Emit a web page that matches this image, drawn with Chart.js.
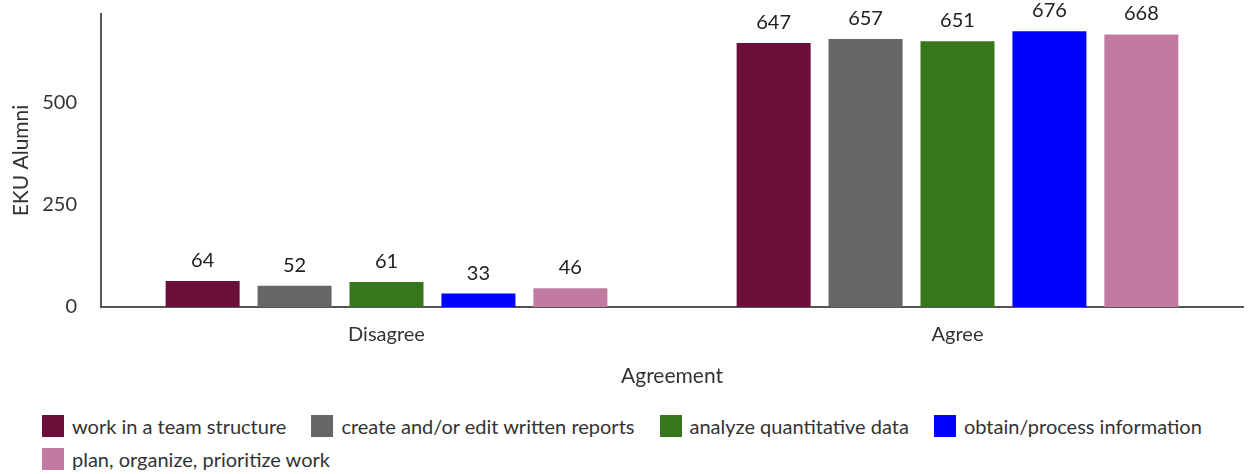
<!DOCTYPE html>
<html>
<head>
<meta charset="utf-8">
<script src="https://cdn.jsdelivr.net/npm/chart.js@4"></script>
<style>
  body { margin: 0; background: #fff; font-family: Lato, sans-serif; }
  #wrap { position: relative; width: 1248px; height: 474px; }
  #chartBox { position: absolute; left: 0; top: 0; width: 1248px; height: 392px; }
  #legend { position: absolute; left: 42px; top: 415px; width: 1200px; display: flex; flex-wrap: wrap; row-gap: 11px; }
  .item { display: flex; align-items: center; margin-right: 25px; font-size: 20px; color: #333; height: 22px; }
  .box { width: 22px; height: 22px; margin-right: 8px; }
</style>
</head>
<body>
<div id="wrap">
  <div id="chartBox"><canvas id="chart"></canvas></div>
  <div id="legend"></div>
</div>
<script>
const categories = ['Disagree', 'Agree'];
const seriesNames = ['work in a team structure', 'create and/or edit written reports', 'analyze quantitative data', 'obtain/process information', 'plan, organize, prioritize work'];
const teamWork = [64, 647];
const writtenReports = [52, 657];
const quantData = [61, 651];
const processInfo = [33, 676];
const organizeWork = [46, 668];
const yTicks = [0, 250, 500];
const colors = ['#6a0f3a', '#666666', '#38761d', '#0000ff', '#c27ba0'];

const allSeries = [teamWork, writtenReports, quantData, processInfo, organizeWork];

// value above each bar
const valueLabels = {
  id: 'valueLabels',
  afterDatasetsDraw(chart) {
    const ctx = chart.ctx;
    ctx.save();
    ctx.font = '20px Lato';
    ctx.fillStyle = '#222';
    ctx.textAlign = 'center';
    ctx.textBaseline = 'alphabetic';
    chart.data.datasets.forEach((ds, i) => {
      chart.getDatasetMeta(i).data.forEach((bar, j) => {
        ctx.fillText(ds.data[j], bar.x, bar.y - 14);
      });
    });
    ctx.restore();
  }
};

new Chart(document.getElementById('chart'), {
  type: 'bar',
  data: {
    labels: categories,
    datasets: allSeries.map((d, i) => ({
      label: seriesNames[i],
      data: d,
      backgroundColor: colors[i],
      categoryPercentage: 0.805,
      barPercentage: 0.805
    }))
  },
  options: {
    responsive: true,
    maintainAspectRatio: false,
    animation: false,
    layout: { padding: { left: 4, right: 5, top: 14, bottom: 3 } },
    plugins: { legend: { display: false }, tooltip: { enabled: false } },
    scales: {
      x: {
        grid: { display: false, drawTicks: false },
        border: { display: true, color: '#555', width: 2 },
        ticks: { color: '#333', font: { family: 'Lato', size: 20 }, padding: 16 },
        title: { display: true, text: 'Agreement', color: '#333', font: { family: 'Lato', size: 21 }, padding: { top: 16, bottom: 0 } },
        afterFit: scale => { scale.height = 82; }
      },
      y: {
        min: 0,
        max: 718,
        grid: { display: false, drawTicks: false },
        border: { display: true, color: '#555', width: 2 },
        afterBuildTicks: scale => { scale.ticks = yTicks.map(v => ({ value: v })); },
        ticks: { color: '#333', font: { family: 'Lato', size: 20 }, padding: 24 },
        title: { display: true, text: 'EKU Alumni', color: '#333', font: { family: 'Lato', size: 21 }, padding: { top: 5, bottom: 9 } },
        afterFit: scale => { scale.width = 97; scale.paddingTop = 0; scale.paddingBottom = 0; }
      }
    }
  },
  plugins: [valueLabels]
});

document.getElementById('legend').innerHTML = seriesNames.map((n, i) =>
  `<div class="item"><span class="box" style="background:${colors[i]}"></span>${n}</div>`).join('');
</script>
</body>
</html>
